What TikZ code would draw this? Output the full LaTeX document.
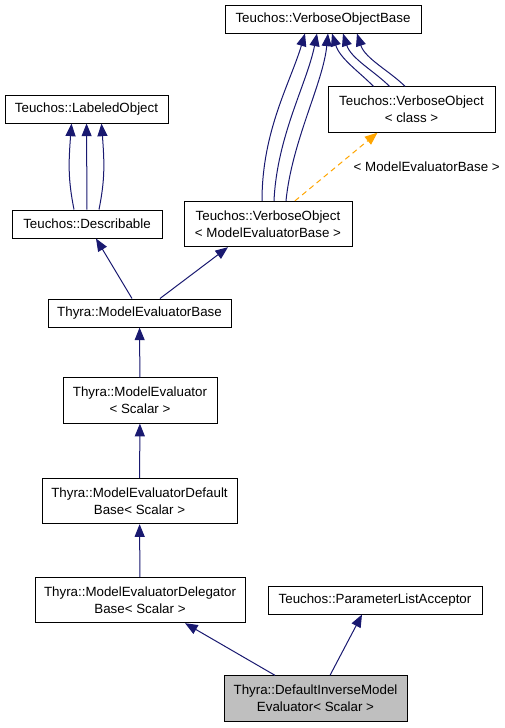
\documentclass[tikz,border=0pt]{standalone}
\usepackage{fontspec}
\setmainfont{Liberation Sans}
\usepackage{tikz}
\usepackage{xcolor}
\usetikzlibrary{arrows.meta, positioning, calc}
\definecolor{edgeblue}{HTML}{191970}
\definecolor{tmplorange}{HTML}{FFA500}
\definecolor{current}{HTML}{BFBFBF}
\tikzstyle{cls}=[draw=black,line width=0.75pt,rectangle,inner sep=0pt,align=center,minimum height=21pt]
\tikzstyle{cls2}=[cls,minimum height=34pt]
\tikzstyle{arrow}=[->,draw=edgeblue,line width=0.75pt]
\tikzstyle{tmpl}=[->,draw=tmplorange,line width=0.75pt,dash pattern=on 4pt off 3pt]

\begin{document}
\begin{tikzpicture}[x=0.75pt,y=-0.75pt,>={Triangle[length=9.5pt,width=7.5pt]},font=\fontsize{10}{12.5}\selectfont]
    \useasboundingbox (0,0) rectangle (504,728);

    \node[cls, minimum width=147pt] (vob) at (323,19) {Teuchos::VerboseObjectBase};
    \node[cls2, minimum width=125.25pt] (voc) at (411.5,109.5) {Teuchos::VerboseObject\\< class >};
    \node[cls2, minimum width=126pt] (vom) at (268,224) {Teuchos::VerboseObject\\< ModelEvaluatorBase >};
    \node[cls, minimum width=122.25pt] (lo) at (86.5,109) {Teuchos::LabeledObject};
    \node[cls, minimum width=112.5pt] (desc) at (87,224) {Teuchos::Describable};
    \node[cls, minimum width=137.25pt] (meb) at (139.5,313) {Thyra::ModelEvaluatorBase};
    \node[cls2, minimum width=115.5pt] (me) at (140,400.5) {Thyra::ModelEvaluator\\< Scalar >};
    \node[cls2, minimum width=146.25pt] (medb) at (139.5,501) {Thyra::ModelEvaluatorDefault\\Base< Scalar >};
    \node[cls2, minimum width=157.5pt] (medel) at (140,600) {Thyra::ModelEvaluatorDelegator\\Base< Scalar >};
    \node[cls, minimum width=160.5pt] (pla) at (375,600) {Teuchos::ParameterListAcceptor};
    \node[cls2, fill=current, minimum width=137.25pt] (dime) at (315.5,698.5) {Thyra::DefaultInverseModel\\Evaluator< Scalar >};

    \draw[arrow] ($(desc.north)+(-13,0)$) .. controls +(-6,-30) and +(-3,40) .. ($(lo.south)+(-15,0)$);
    \draw[arrow] (desc) -- (lo);
    \draw[arrow] ($(desc.north)+(12,0)$) .. controls +(6,-30) and +(3,40) .. ($(lo.south)+(15,0)$);

    \draw[arrow] ($(vom.north)+(-6,0)$) .. controls +(0,-70) and +(-15,50) .. ($(vob.south)+(-18,0)$);
    \draw[arrow] ($(vom.north)+(6,0)$) .. controls +(3,-65) and +(-10,50) .. ($(vob.south)+(-6,0)$);
    \draw[arrow] ($(vom.north)+(18,0)$) .. controls +(6,-60) and +(-5,50) .. ($(vob.south)+(5,0)$);

    \draw[arrow] ($(voc.north)+(-38,0)$) .. controls +(-15,-15) and +(8,25) .. ($(vob.south)+(9,0)$);
    \draw[arrow] ($(voc.north)+(-22,0)$) .. controls +(-15,-15) and +(8,25) .. ($(vob.south)+(20,0)$);
    \draw[arrow] ($(voc.north)+(-6.5,0)$) .. controls +(-15,-15) and +(8,25) .. ($(vob.south)+(34,0)$);

    \draw[tmpl] ($(vom.north)+(27,0)$) -- node[right, xshift=9.4pt] {< ModelEvaluatorBase >} ($(voc.south)+(-34,0)$);

    \draw[arrow] ($(meb.north)+(-7.5,0)$) -- ($(desc.south)+(9,0)$);
    \draw[arrow] ($(meb.north)+(20.5,0)$) -- ($(vom.south)+(-40,0)$);
    \draw[arrow] (me) -- (meb);
    \draw[arrow] (medb) -- (me);
    \draw[arrow] (medel) -- (medb);
    \draw[arrow] ($(dime.north)+(-40.5,0)$) -- ($(medel.south)+(45,0)$);
    \draw[arrow] ($(dime.north)+(14.5,0)$) -- ($(pla.south)+(-13,0)$);
\end{tikzpicture}
\end{document}
